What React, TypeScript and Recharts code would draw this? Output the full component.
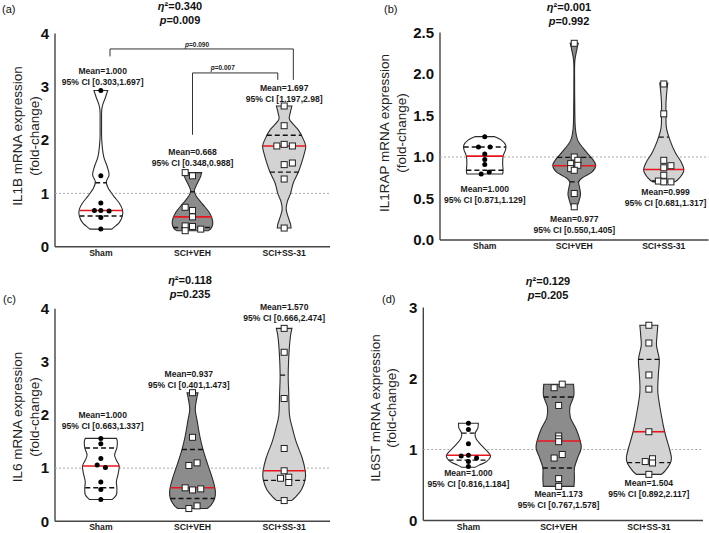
import React from "react";
import { ScatterChart, Scatter, XAxis, YAxis } from "recharts";

// Violin plots of fold-change mRNA expression (Sham / SCI+VEH / SCI+SS-31),
// four genes. Outlines, medians and quartiles.

type XY = { x: number; y: number };
type Profile = [number, number][]; // [value, half-width in category units]
type Mark = [number, number]; // [value, half-width]

const GROUPS = ["Sham", "SCI+VEH", "SCI+SS-31"];

// ---- (a) IL1B
const IL1B_STATS = ["0.340", "0.009"];
const IL1B_VALUES = [
  [2.93, 1.33, 0.82, 0.68, 0.68, 0.67, 0.55, 0.33],
  [1.39, 1.33, 0.74, 0.68, 0.56, 0.39, 0.38, 0.3, 0.33],
  [2.64, 2.27, 1.89, 1.92, 1.89, 1.54, 1.57, 1.27, 0.35],
];
const IL1B_JITTER = [
  [0, 0, 0, -0.07, 0, 0.09, 0, 0],
  [-0.08, 0, -0.08, 0, 0, -0.08, 0, -0.08, 0.09],
  [0, 0, -0.08, 0, 0.09, 0, 0.09, 0, 0],
];
const IL1B_SHAPES: Profile[] = [
  [[2.93, 0.075], [2.8, 0.05], [2.6, 0.012], [2.3, 0.008], [2.0, 0.01], [1.7, 0.03], [1.5, 0.07], [1.35, 0.09], [1.22, 0.06], [1.1, 0.08], [0.95, 0.14], [0.82, 0.2], [0.7, 0.235], [0.58, 0.235], [0.45, 0.2], [0.33, 0.12]],
  [[1.39, 0.1], [1.3, 0.085], [1.18, 0.05], [1.05, 0.02], [0.95, 0.04], [0.8, 0.11], [0.65, 0.18], [0.52, 0.215], [0.42, 0.22], [0.34, 0.2], [0.3, 0.17]],
  [[2.64, 0.085], [2.5, 0.065], [2.38, 0.06], [2.2, 0.15], [2.05, 0.2], [1.89, 0.235], [1.75, 0.22], [1.6, 0.195], [1.4, 0.155], [1.2, 0.1], [1.0, 0.07], [0.85, 0.035], [0.7, 0.022], [0.55, 0.045], [0.42, 0.07], [0.35, 0.075]],
];
const IL1B_MEDIANS: Mark[] = [[0.68, 0.232], [0.56, 0.21], [1.89, 0.235]];
const IL1B_QUARTILES: Mark[][] = [
  [[0.575, 0.232], [1.2, 0.062]],
  [[0.36, 0.212], [1.03, 0.022]],
  [[1.4, 0.155], [2.09, 0.19]],
];
const IL1B_MEANS = ["1.000", "0.668", "1.697"];
const IL1B_CIS = ["0.303,1.697", "0.348,0.988", "1.197,2.98"];
const IL1B_PVALS = ["0.090", "0.007"];

// ---- (b) IL1RAP
const IL1RAP_STATS = ["0.001", "0.992"];
const IL1RAP_VALUES = [
  [1.245, 1.12, 1.12, 1.036, 0.97, 0.91, 0.82, 0.795],
  [2.37, 1.0, 0.96, 0.92, 0.9, 0.86, 0.84, 0.56, 0.4],
  [1.88, 1.52, 0.96, 0.895, 0.87, 0.78, 0.71, 0.7, 0.7],
];
const IL1RAP_JITTER = [
  [0, -0.07, 0.06, 0, 0, 0, 0.05, -0.04],
  [0, 0, 0.04, -0.04, 0.04, -0.04, 0, 0, 0],
  [0, 0, 0, 0.08, 0, 0, -0.06, 0, 0.08],
];
const IL1RAP_SHAPES: Profile[] = [
  [[1.245, 0.11], [1.2, 0.19], [1.14, 0.235], [1.08, 0.23], [1.01, 0.205], [0.92, 0.2], [0.84, 0.205], [0.795, 0.2]],
  [[2.37, 0.045], [2.3, 0.03], [2.15, 0.006], [1.9, 0.004], [1.6, 0.006], [1.35, 0.012], [1.2, 0.04], [1.08, 0.12], [0.98, 0.2], [0.9, 0.24], [0.82, 0.2], [0.75, 0.09], [0.7, 0.05], [0.63, 0.06], [0.55, 0.07], [0.46, 0.05], [0.4, 0.03]],
  [[1.89, 0.045], [1.8, 0.035], [1.65, 0.025], [1.5, 0.025], [1.35, 0.03], [1.2, 0.07], [1.05, 0.13], [0.95, 0.19], [0.85, 0.225], [0.78, 0.2], [0.72, 0.15], [0.7, 0.12]],
];
const IL1RAP_MEDIANS: Mark[] = [[1.01, 0.205], [0.895, 0.24], [0.85, 0.225]];
const IL1RAP_QUARTILES: Mark[][] = [
  [[0.84, 0.205], [1.12, 0.235]],
  [[0.7, 0.05], [0.995, 0.19]],
  [[0.71, 0.13], [1.24, 0.055]],
];
const IL1RAP_MEANS = ["1.000", "0.977", "0.999"];
const IL1RAP_CIS = ["0.871,1.129", "0.550,1.405", "0.681,1.317"];

// ---- (c) IL6
const IL6_STATS = ["0.118", "0.235"];
const IL6_VALUES = [
  [1.56, 1.46, 1.18, 1.06, 1.01, 0.74, 0.6, 0.41],
  [2.42, 1.58, 1.05, 1.1, 0.63, 0.59, 0.61, 0.24, 0.29],
  [3.63, 3.18, 2.31, 1.37, 0.95, 0.81, 0.83, 0.73, 0.39],
];
const IL6_JITTER = [
  [0, 0, 0, -0.04, 0.05, 0, 0, 0],
  [0, 0, -0.04, 0.05, -0.08, 0, 0.09, -0.04, 0.05],
  [0, 0, 0, 0, 0, -0.04, 0.05, 0.05, 0],
];
const IL6_SHAPES: Profile[] = [
  [[1.56, 0.17], [1.5, 0.18], [1.38, 0.175], [1.25, 0.15], [1.15, 0.17], [1.04, 0.2], [0.9, 0.19], [0.75, 0.17], [0.63, 0.175], [0.5, 0.17], [0.41, 0.125]],
  [[2.42, 0.06], [2.3, 0.045], [2.1, 0.03], [1.9, 0.05], [1.6, 0.08], [1.35, 0.115], [1.1, 0.16], [0.9, 0.2], [0.7, 0.235], [0.55, 0.25], [0.42, 0.24], [0.3, 0.2], [0.24, 0.16]],
  [[3.63, 0.085], [3.5, 0.07], [3.3, 0.058], [3.0, 0.048], [2.7, 0.044], [2.4, 0.05], [2.0, 0.058], [1.75, 0.09], [1.5, 0.13], [1.2, 0.195], [0.95, 0.23], [0.8, 0.23], [0.6, 0.19], [0.45, 0.12], [0.39, 0.08]],
];
const IL6_MEDIANS: Mark[] = [[1.04, 0.205], [0.63, 0.24], [0.95, 0.23]];
const IL6_QUARTILES: Mark[][] = [
  [[0.63, 0.17], [1.38, 0.172]],
  [[0.43, 0.24], [1.35, 0.115]],
  [[0.77, 0.23], [2.75, 0.044]],
];
const IL6_MEANS = ["1.000", "0.937", "1.570"];
const IL6_CIS = ["0.663,1.337", "0.401,1.473", "0.666,2.474"];

// ---- (d) IL6ST
const IL6ST_STATS = ["0.129", "0.205"];
const IL6ST_VALUES = [
  [1.37, 1.28, 1.08, 0.91, 0.92, 0.88, 0.83, 0.76],
  [1.87, 1.92, 1.62, 1.19, 1.15, 1.11, 0.88, 0.93, 0.59, 0.48],
  [2.75, 2.5, 2.05, 1.85, 1.25, 0.87, 0.83, 0.81, 0.65],
];
const IL6ST_JITTER = [
  [0, 0, 0, -0.08, 0, 0.09, 0, 0],
  [-0.05, 0.04, 0, 0, 0, 0, -0.05, 0.04, 0, 0],
  [0, 0, 0, 0, 0, 0.04, -0.04, 0.04, 0],
];
const IL6ST_SHAPES: Profile[] = [
  [[1.37, 0.11], [1.3, 0.105], [1.23, 0.075], [1.15, 0.085], [1.05, 0.15], [0.96, 0.22], [0.9, 0.245], [0.83, 0.2], [0.78, 0.12], [0.75, 0.075]],
  [[1.92, 0.165], [1.82, 0.17], [1.74, 0.165], [1.6, 0.125], [1.45, 0.13], [1.3, 0.19], [1.14, 0.235], [1.02, 0.25], [0.88, 0.21], [0.74, 0.175], [0.6, 0.175], [0.48, 0.17]],
  [[2.75, 0.1], [2.6, 0.09], [2.46, 0.085], [2.27, 0.115], [2.05, 0.105], [1.8, 0.1], [1.47, 0.14], [1.25, 0.175], [1.0, 0.23], [0.88, 0.25], [0.8, 0.235], [0.7, 0.18], [0.65, 0.14]],
];
const IL6ST_MEDIANS: Mark[] = [[0.92, 0.24], [1.12, 0.24], [1.25, 0.175]];
const IL6ST_QUARTILES: Mark[][] = [
  [[0.85, 0.22], [1.23, 0.075]],
  [[0.74, 0.175], [1.74, 0.165]],
  [[0.815, 0.24], [2.27, 0.115]],
];
const IL6ST_MEANS = ["1.000", "1.173", "1.504"];
const IL6ST_CIS = ["0.816,1.184", "0.767,1.578", "0.892,2.117"];

// ---- styling / placement (not data)
const FONT = "'Liberation Sans', Arial, Helvetica, sans-serif";
const FILLS = ["#ffffff", "#8c8c8c", "#d3d3d3"];
const OUTLINE = "#2b2b2b";
const RED = "#e8161c";
const W = 355;
const H = 267;

interface Layout {
  pos: [number, number];
  left: number; // plot left
  right: number; // margin right
  top: number; // plot top
  bottom: number; // plot bottom
  xMax: number;
  yTicks: number[];
  decimals: number;
  labelAt: [number, number][]; // mean/CI label anchors (dx, value)
  title: [number, number]; // centre x, first line y
  yTitle: [number, number, number]; // line1 x, line2 x, centre y
  letter: [number, number];
}

const LAYOUT_A: Layout = {
  pos: [0, 0], left: 55, right: 25, top: 33.5, bottom: 246.7, xMax: 2.5,
  yTicks: [0, 1, 2, 3, 4], decimals: 0,
  labelAt: [[0.02, 3.19], [0, 1.67], [0, 2.87]],
  title: [180, 6], yTitle: [17.5, 34, 136], letter: [2, 9],
};
const LAYOUT_B: Layout = {
  pos: [354, 0], left: 86, right: 0.5, top: 32.5, bottom: 240, xMax: 2.5,
  yTicks: [0, 0.5, 1, 1.5, 2, 2.5], decimals: 1,
  labelAt: [[0, 0.545], [0, 0.187], [0.02, 0.508]],
  title: [215, 7], yTitle: [30.5, 47, 133], letter: [30, 9],
};
const LAYOUT_C: Layout = {
  pos: [0, 266], left: 55, right: 25, top: 42.7, bottom: 255.3, xMax: 2.5,
  yTicks: [0, 1, 2, 3, 4], decimals: 0,
  labelAt: [[0.02, 1.9], [-0.04, 2.66], [0, 3.93]],
  title: [190, 14], yTitle: [17.5, 34, 151], letter: [3, 33],
};
const LAYOUT_D: Layout = {
  pos: [354, 266], left: 69.3, right: 6, top: 41.5, bottom: 254.5, xMax: 2.6,
  yTicks: [0, 1, 2, 3], decimals: 0,
  labelAt: [[0, 0.59], [0, 0.29], [0, 0.45]],
  title: [194, 15], yTitle: [21, 37.5, 142], letter: [28, 33],
};

// brackets for (a): polylines in data space and p-label anchors
const IL1B_BRACKETS: XY[][] = [
  [{ x: 0.1, y: 3.57 }, { x: 0.1, y: 3.71 }, { x: 2.1, y: 3.71 }, { x: 2.1, y: 3.13 }],
  [{ x: 1.0, y: 2.1 }, { x: 1.0, y: 3.26 }, { x: 1.93, y: 3.26 }, { x: 1.93, y: 3.13 }],
];
const IL1B_PLABEL_AT: XY[] = [{ x: 1.05, y: 3.8 }, { x: 1.33, y: 3.37 }];

function smooth(pts: XY[]): string {
  let d = "";
  for (let i = 0; i < pts.length - 1; i++) {
    const p0 = pts[Math.max(i - 1, 0)];
    const p1 = pts[i];
    const p2 = pts[i + 1];
    const p3 = pts[Math.min(i + 2, pts.length - 1)];
    const c1x = p1.x + (p2.x - p0.x) / 6;
    const c1y = p1.y + (p2.y - p0.y) / 6;
    const c2x = p2.x - (p3.x - p1.x) / 6;
    const c2y = p2.y - (p3.y - p1.y) / 6;
    d += ` C${c1x},${c1y} ${c2x},${c2y} ${p2.x},${p2.y}`;
  }
  return d;
}

const noShape = () => <g />;

function violinLine(n: number, fill: string) {
  return (props: any) => {
    const pts: XY[] = props.points || [];
    if (pts.length < 2 * n) return <g />;
    const right = pts.slice(0, n);
    const left = pts.slice(n, 2 * n);
    const d = `M${right[0].x},${right[0].y}${smooth(right)} L${left[0].x},${left[0].y}${smooth(left)} Z`;
    return <path d={d} fill={fill} stroke={OUTLINE} strokeWidth={1.1} />;
  };
}

interface PanelProps {
  letter: string;
  gene: string;
  stats: string[];
  values: number[][];
  jitter: number[][];
  shapes: Profile[];
  medians: Mark[];
  quartiles: Mark[][];
  means: string[];
  cis: string[];
  layout: Layout;
  brackets?: XY[][];
  pvals?: string[];
  pAt?: XY[];
}

function Panel(p: PanelProps) {
  const L = p.layout;
  const yMax = L.yTicks[L.yTicks.length - 1];
  const ref: XY[] = [{ x: -0.5, y: 1 }, { x: L.xMax, y: 1 }];

  const outline = p.shapes.map((prof, g) => [
    ...prof.map(([y, w]) => ({ x: g + w, y })),
    ...[...prof].reverse().map(([y, w]) => ({ x: g - w, y })),
  ]);
  const seg = (g: number, [y, w]: Mark): XY[] => [{ x: g - w, y }, { x: g + w, y }];
  const dots = p.values.map((vals, g) => vals.map((y, i) => ({ x: g + p.jitter[g][i], y })));
  const labels = L.labelAt.map(([dx, y], g) => ({ x: g + dx, y, mean: p.means[g], ci: p.cis[g] }));

  return (
    <div style={{ position: "absolute", left: L.pos[0], top: L.pos[1], width: W, height: H }}>
      <ScatterChart width={W} height={H} margin={{ top: L.top, right: L.right, bottom: 0, left: 0 }}>
        <XAxis
          type="number"
          dataKey="x"
          domain={[-0.5, L.xMax]}
          ticks={[0, 1, 2]}
          interval={0}
          tickFormatter={(v: number) => GROUPS[Math.round(v)]}
          height={H - L.bottom}
          tickSize={3}
          tickMargin={0}
          tickLine={false}
          axisLine={{ stroke: "#444", strokeWidth: 1.4 }}
          tick={{ fontSize: 8.6, fontWeight: 700, fill: "#1a1a1a", fontFamily: FONT }}
        />
        <YAxis
          type="number"
          dataKey="y"
          domain={[0, yMax]}
          ticks={L.yTicks}
          interval={0}
          width={L.left}
          tickSize={0}
          tickMargin={6}
          tickLine={false}
          tickFormatter={(v: number) => v.toFixed(L.decimals)}
          axisLine={{ stroke: "#444", strokeWidth: 1.4 }}
          tick={{ fontSize: 15, fontWeight: 700, fill: "#111", fontFamily: FONT }}
        />
        <Scatter
          data={ref}
          shape={noShape}
          line={{ stroke: "#a8a8a8", strokeWidth: 1, strokeDasharray: "2 2" }}
          isAnimationActive={false}
        />
        {outline.map((d, g) => (
          <Scatter
            key={`v${g}`}
            data={d}
            shape={noShape}
            line={violinLine(p.shapes[g].length, FILLS[g])}
            lineType="joint"
            isAnimationActive={false}
          />
        ))}
        {p.quartiles.map((qs, g) =>
          qs.map((q, k) => (
            <Scatter
              key={`q${g}-${k}`}
              data={seg(g, q)}
              shape={noShape}
              line={{ stroke: "#111", strokeWidth: 1.4, strokeDasharray: "5 3" }}
              isAnimationActive={false}
            />
          ))
        )}
        {p.medians.map((m, g) => (
          <Scatter
            key={`m${g}`}
            data={seg(g, m)}
            shape={noShape}
            line={{ stroke: RED, strokeWidth: 1.6 }}
            isAnimationActive={false}
          />
        ))}
        {dots.map((d, g) => (
          <Scatter
            key={`d${g}`}
            data={d}
            isAnimationActive={false}
            shape={(s: any) =>
              g === 0 ? (
                <circle cx={s.cx} cy={s.cy} r={2.5} fill="#000" />
              ) : (
                <rect x={s.cx - 3} y={s.cy - 3} width={6} height={6} fill="#fff" stroke="#222" strokeWidth={1} />
              )
            }
          />
        ))}
        {(p.brackets || []).map((b, i) => (
          <Scatter
            key={`b${i}`}
            data={b}
            shape={noShape}
            line={{ stroke: "#333", strokeWidth: 1 }}
            isAnimationActive={false}
          />
        ))}
        {p.pAt && p.pvals ? (
          <Scatter
            data={p.pAt.map((a, i) => ({ ...a, pv: p.pvals![i] }))}
            isAnimationActive={false}
            shape={(s: any) => (
              <text x={s.cx} y={s.cy} textAnchor="middle" dominantBaseline="central" fontSize={6.5} fontWeight={700} fill="#222" fontFamily={FONT}>
                <tspan fontStyle="italic">p</tspan>={s.payload.pv}
              </text>
            )}
          />
        ) : null}
        <Scatter
          data={labels}
          isAnimationActive={false}
          shape={(s: any) => (
            <text x={s.cx} y={s.cy} textAnchor="middle" fontSize={8.6} fontWeight={700} fill="#1a1a1a" fontFamily={FONT}>
              <tspan x={s.cx} dy={-2.5}>Mean={s.payload.mean}</tspan>
              <tspan x={s.cx} dy={11}>95% CI [{s.payload.ci}]</tspan>
            </text>
          )}
        />
      </ScatterChart>
      <svg width={W} height={H} style={{ position: "absolute", left: 0, top: 0, pointerEvents: "none", overflow: "visible" }}>
        <text x={L.letter[0]} y={L.letter[1]} dominantBaseline="central" fontSize={11} fill="#111" fontFamily={FONT}>
          ({p.letter})
        </text>
        <text x={L.title[0]} y={L.title[1]} textAnchor="middle" dominantBaseline="central" fontSize={11} fontWeight={700} fill="#111" fontFamily={FONT}>
          <tspan fontStyle="italic">η</tspan>²={p.stats[0]}
        </text>
        <text x={L.title[0]} y={L.title[1] + 13.5} textAnchor="middle" dominantBaseline="central" fontSize={11} fontWeight={700} fill="#111" fontFamily={FONT}>
          <tspan fontStyle="italic">p</tspan>={p.stats[1]}
        </text>
        <text
          x={L.yTitle[0]}
          y={L.yTitle[2]}
          transform={`rotate(-90 ${L.yTitle[0]} ${L.yTitle[2]})`}
          textAnchor="middle"
          dominantBaseline="central"
          fontSize={13.5}
          fill="#222"
          fontFamily={FONT}
        >
          {p.gene} mRNA expression
        </text>
        <text
          x={L.yTitle[1]}
          y={L.yTitle[2]}
          transform={`rotate(-90 ${L.yTitle[1]} ${L.yTitle[2]})`}
          textAnchor="middle"
          dominantBaseline="central"
          fontSize={13.5}
          fill="#222"
          fontFamily={FONT}
        >
          (fold-change)
        </text>
      </svg>
    </div>
  );
}

export default function App() {
  return (
    <div style={{ position: "absolute", left: 0, top: 0, width: 709, height: 533, background: "#fff", fontFamily: FONT }}>
      <Panel
        letter="a" gene="IL1B" stats={IL1B_STATS} values={IL1B_VALUES} jitter={IL1B_JITTER}
        shapes={IL1B_SHAPES} medians={IL1B_MEDIANS} quartiles={IL1B_QUARTILES}
        means={IL1B_MEANS} cis={IL1B_CIS} layout={LAYOUT_A}
        brackets={IL1B_BRACKETS} pvals={IL1B_PVALS} pAt={IL1B_PLABEL_AT}
      />
      <Panel
        letter="b" gene="IL1RAP" stats={IL1RAP_STATS} values={IL1RAP_VALUES} jitter={IL1RAP_JITTER}
        shapes={IL1RAP_SHAPES} medians={IL1RAP_MEDIANS} quartiles={IL1RAP_QUARTILES}
        means={IL1RAP_MEANS} cis={IL1RAP_CIS} layout={LAYOUT_B}
      />
      <Panel
        letter="c" gene="IL6" stats={IL6_STATS} values={IL6_VALUES} jitter={IL6_JITTER}
        shapes={IL6_SHAPES} medians={IL6_MEDIANS} quartiles={IL6_QUARTILES}
        means={IL6_MEANS} cis={IL6_CIS} layout={LAYOUT_C}
      />
      <Panel
        letter="d" gene="IL6ST" stats={IL6ST_STATS} values={IL6ST_VALUES} jitter={IL6ST_JITTER}
        shapes={IL6ST_SHAPES} medians={IL6ST_MEDIANS} quartiles={IL6ST_QUARTILES}
        means={IL6ST_MEANS} cis={IL6ST_CIS} layout={LAYOUT_D}
      />
    </div>
  );
}
